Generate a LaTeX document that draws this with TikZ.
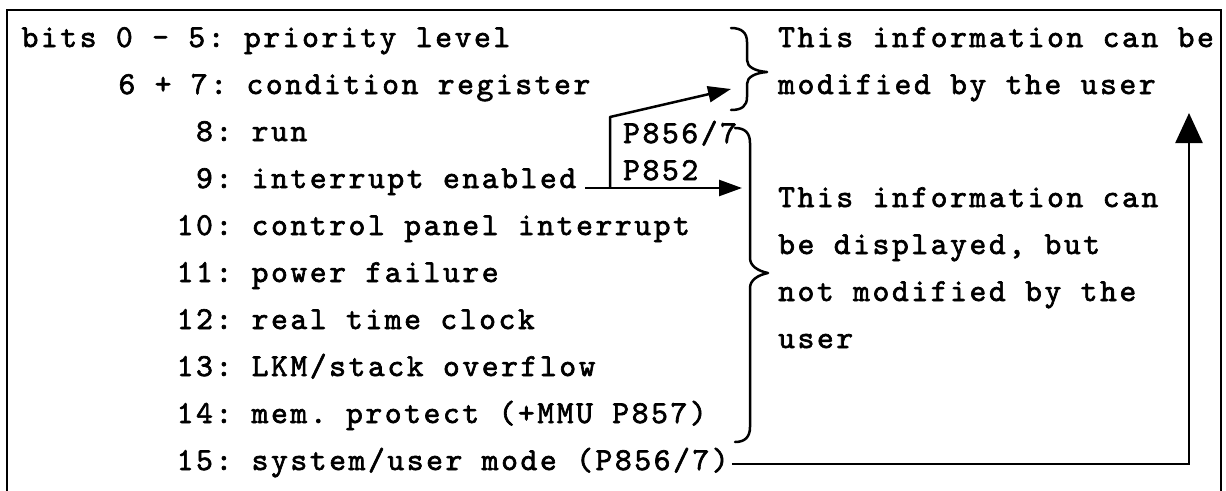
\documentclass[tikz,border=0pt]{standalone}
\usepackage{fontspec}
\newfontfamily\typew[LetterSpace=8.1,FakeBold=2]{lmmono10-regular.otf}
\usetikzlibrary{arrows.meta}
\begin{document}
\begin{tikzpicture}[x=1pt,y=-1pt,
  txt/.style={anchor=base west, inner sep=0pt,
    font=\typew\fontsize{32}{38}\selectfont\frenchspacing},
  rule/.style={line width=2.5pt},
  conn/.style={line width=2.5pt, line join=round, -{Triangle[length=23pt,width=16pt]}},
  bigconn/.style={line width=2.5pt, -{Triangle[length=30pt,width=27pt]}},
  brace/.style={line width=2.5pt, line cap=round, line join=round}]
\useasboundingbox (0,0) rectangle (1226,490);

% frame (open at the bottom)
\draw[rule] (7,495) -- (7,10) -- (1221,10) -- (1221,495);

% status word bits
\node[txt] (r0)  at (21.4,47)  {bits 0 - 5: priority level};
\node[txt] (r6)  at (118.3,94) {6 + 7: condition register};
\node[txt] (r8)  at (195.9,141) {8: run};
\node[txt] (r9)  at (195.9,188) {9: interrupt enabled};
\node[txt] (r10) at (176.5,235) {10: control panel interrupt};
\node[txt] (r11) at (176.5,282) {11: power failure};
\node[txt] (r12) at (176.5,329) {12: real time clock};
\node[txt] (r13) at (176.5,376) {13: LKM/stack overflow};
\node[txt] (r14) at (176.5,423) {14: mem. protect (+MMU P857)};
\node[txt] (r15) at (176.5,470) {15: system/user mode (P856/7)};

% explanations
\node[txt] (m1) at (778,47) {This information can be};
\node[txt] (m2) at (778,94) {modified by the user};
\node[txt] (d1) at (778,207) {This information can};
\node[txt] (d2) at (778,254) {be displayed, but};
\node[txt] (d3) at (778,301) {not modified by the};
\node[txt] (d4) at (778,348) {user};

% processor labels
\node[txt] (pa) at (623,143) {P856/7};
\node[txt] (pb) at (623,180) {P852};

% braces
\draw[brace] (731,28) .. controls (742,28) and (747,33) .. (747,42) -- (747,60)
  .. controls (747,67) and (755,71) .. (767,72)
  .. controls (755,73) and (747,77) .. (747,84) -- (747,97)
  .. controls (747,106) and (742,110) .. (731,110);
\draw[brace] (735,128) .. controls (745,128) and (750,133) .. (750,143) -- (750,258)
  .. controls (750,266) and (758,271) .. (768,273)
  .. controls (758,275) and (750,280) .. (750,288) -- (750,427)
  .. controls (750,437) and (745,442) .. (735,442);

% connectors
\coordinate (fork) at (610,188);
\coordinate (bend) at (610,117);
\coordinate (tipA) at (731,89);
\coordinate (tipB) at (742,188);
\coordinate (corner) at (1189,464);
\coordinate (tipC) at (1189,113);
\draw[conn] ([xshift=9pt]r9.base east) -- (tipB);
\draw[conn] (fork) -- (bend) -- (tipA);
\draw[bigconn] ([shift={(3,-6)}]r15.base east) -- (corner) -- (tipC);
\end{tikzpicture}
\end{document}
